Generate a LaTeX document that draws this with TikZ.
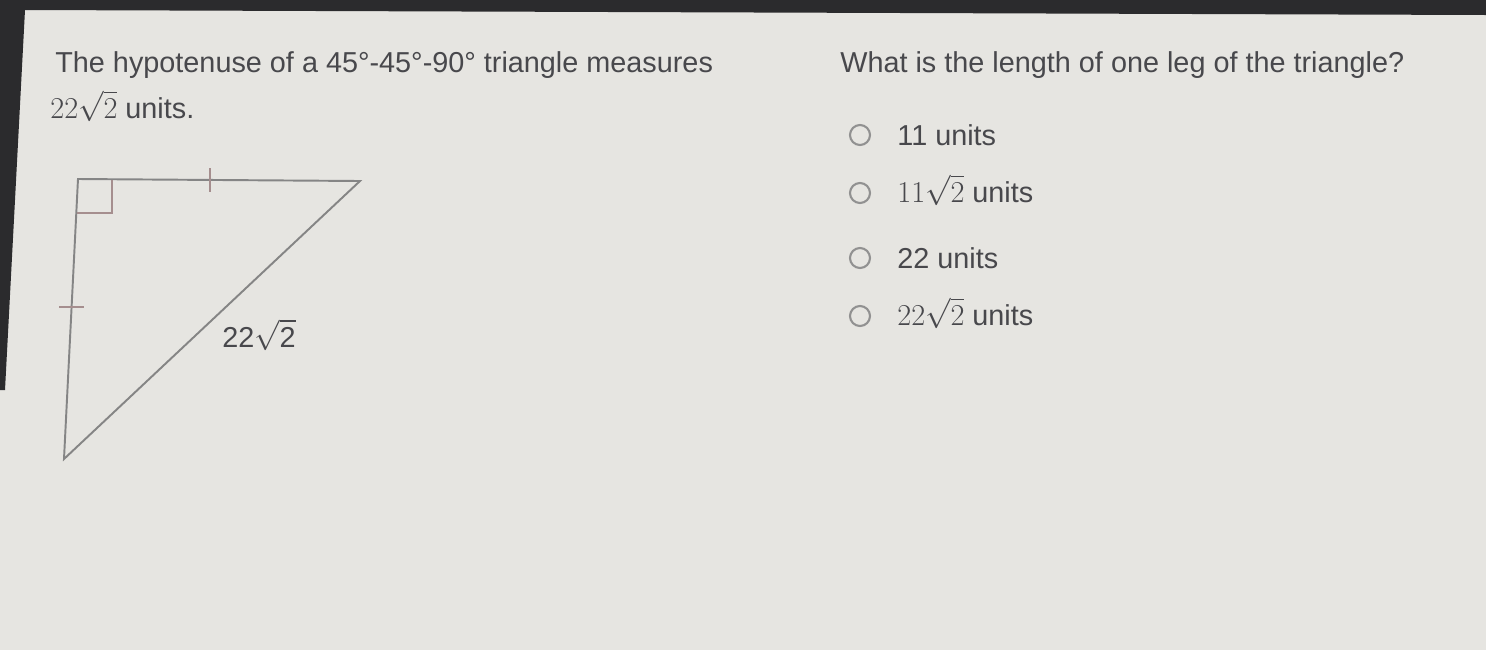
\documentclass[tikz,border=0pt]{standalone}
\usepackage{amsmath, amssymb}
\usepackage{fontspec}
\setsansfont{Liberation Sans}

\definecolor{screen}{HTML}{E6E5E1}
\definecolor{bezel}{HTML}{2B2B2D}
\definecolor{ink}{HTML}{48484C}
\definecolor{edge}{HTML}{858585}
\definecolor{tickred}{HTML}{A58E8E}

\begin{document}
\begin{tikzpicture}[x=0.02cm,y=-0.02cm,
    txt/.style={anchor=base west, inner sep=0pt, text=ink, font=\sffamily\fontsize{16.4}{19}\selectfont},
    radio/.style={circle, draw=edge!90!white, line width=1.2pt, minimum size=0.4cm, inner sep=0pt},
    leg/.style={draw=edge, line width=1.1pt},
    hatch/.style={draw=tickred, line width=1pt}]
    \newcommand{\optx}{897}
    \newcommand{\radx}{860}

    \useasboundingbox (0,0) rectangle (1486,650);
    \fill [screen] (0,0) rectangle (1486,650);
    \fill [bezel] (0,0) -- (1486,0) -- (1486,15) -- (25,10) -- (5,390) -- (0,390) -- cycle;

    \node [txt] (intro) at (55,72) {The hypotenuse of a 45°-45°-90° triangle measures};
    \node [txt] (hyp) at (50,118) {$22\sqrt{2}$ units.};
    \node [txt] (question) at (840,72) {What is the length of one leg of the triangle?};

    \coordinate (A) at (78,179);
    \coordinate (B) at (360,181);
    \coordinate (C) at (64,459);
    \draw [leg] (A) -- (B) -- (C) -- cycle;
    \draw [hatch] (77,213) -- (112,213) -- (112,180);
    \draw [hatch] (210,168) -- (210,192);
    \draw [hatch] (59,307) -- (84,307);
    \node [txt] (side) at (222,347) {22$\sqrt{\textsf{2}}$};

    \node [radio] (r1) at (\radx,135) {};
    \node [txt] (o1) at (\optx,145) {11 units};
    \node [radio] (r2) at (\radx,193) {};
    \node [txt] (o2) at (\optx,202) {$11\sqrt{2}$ units};
    \node [radio] (r3) at (\radx,258) {};
    \node [txt] (o3) at (\optx,268) {22 units};
    \node [radio] (r4) at (\radx,316) {};
    \node [txt] (o4) at (\optx,325) {$22\sqrt{2}$ units};

\end{tikzpicture}
\end{document}
